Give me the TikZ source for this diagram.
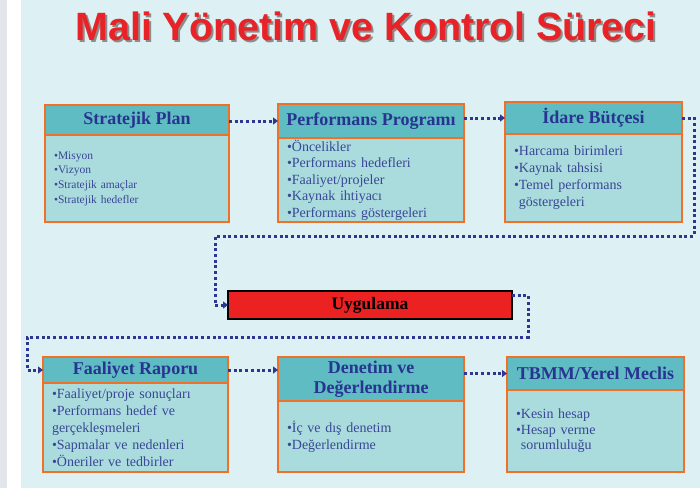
\documentclass[tikz,border=0pt]{standalone}
\usepackage{fontspec}
\setmainfont{Liberation Serif}
\newfontfamily\titlefont{Liberation Sans}
\usetikzlibrary{arrows.meta,positioning}
\definecolor{bgcyan}{RGB}{221,240,243}
\definecolor{stripgray}{RGB}{226,230,235}
\definecolor{boxorange}{RGB}{240,112,40}
\definecolor{headteal}{RGB}{95,188,194}
\definecolor{bodyteal}{RGB}{170,220,222}
\definecolor{headblue}{RGB}{40,52,145}
\definecolor{itemblue}{RGB}{58,70,150}
\definecolor{dotblue}{RGB}{45,55,145}
\definecolor{titlered}{RGB}{232,34,38}
\definecolor{uygred}{RGB}{236,34,34}
\newcommand{\shadowtext}[1]{\rlap{\hspace{2pt}\raisebox{-2pt}{\color{black!45}#1}}#1}
\tikzset{
  head/.style={draw=boxorange,line width=2pt,fill=headteal,text=headblue,
    font=\fontsize{18}{20}\selectfont\bfseries,inner sep=0pt,outer sep=0pt,align=center},
  body/.style={draw=boxorange,line width=2pt,fill=bodyteal,text=itemblue,
    font=\fontsize{14}{17}\selectfont,inner xsep=9pt,inner ysep=0pt,outer sep=0pt,align=left},
  uygbox/.style={draw=black,line width=1.5pt,fill=uygred,text=black,
    font=\fontsize{17.5}{20}\selectfont\bfseries,inner sep=0pt,outer sep=0pt},
  flow/.style={draw=dotblue,line width=3pt,dash pattern=on 3pt off 2.7pt,
    -{Triangle[length=5pt,width=7pt]}}
}

\begin{document}
\begin{tikzpicture}[x=1pt,y=-1pt]
\useasboundingbox (0,0) rectangle (700,488);
\fill[stripgray] (0,0) rectangle (7,488);
\fill[white] (7,0) rectangle (21,488);
\fill[bgcyan] (21,0) rectangle (700,488);
% title
\node[font=\titlefont\bfseries\fontsize{39.5}{44}\selectfont,text=titlered] (title) at (366,27) {\shadowtext{Mali Yönetim ve Kontrol Süreci}};
% top row
\node[head,minimum width=184pt,minimum height=30pt] (b1h) at (137,120) {Stratejik Plan};
\node[body,below=0pt of b1h,minimum height=87pt,text width=166pt,
  font=\fontsize{11.5}{14.7}\selectfont] (b1b) {•Misyon\\•Vizyon\\•Stratejik amaçlar\\•Stratejik hedefler};
\node[head,minimum width=186pt,minimum height=34pt] (b2h) at (371,121) {Performans Programı};
\node[body,below=0pt of b2h,minimum height=84pt,text width=168pt,
  font=\fontsize{14}{16.5}\selectfont] (b2b) {•Öncelikler\\•Performans hedefleri\\•Faaliyet/projeler\\•Kaynak ihtiyacı\\•Performans göstergeleri};
\node[head,minimum width=177pt,minimum height=32pt] (b3h) at (593.5,118) {İdare Bütçesi};
\node[body,below=0pt of b3h,minimum height=88pt,text width=159pt] (b3b) {•Harcama birimleri\\•Kaynak tahsisi\\•Temel performans\\\phantom{•}göstergeleri};
% middle
\node[uygbox,minimum width=284pt,minimum height=28pt] (uyg) at (370,305) {Uygulama};
% bottom row
\node[head,minimum width=185pt,minimum height=26pt] (b4h) at (135.5,370) {Faaliyet Raporu};
\node[body,below=0pt of b4h,minimum height=89pt,text width=167pt] (b4b) {•Faaliyet/proje sonuçları\\•Performans hedef ve\\gerçekleşmeleri\\•Sapmalar ve nedenleri\\•Öneriler ve tedbirler};
\node[head,minimum width=186pt,minimum height=44pt] (b5h) at (371,379) {Denetim ve\\Değerlendirme};
\node[body,below=0pt of b5h,minimum height=71pt,text width=168pt] (b5b) {•İç ve dış denetim\\•Değerlendirme};
\node[head,minimum width=177pt,minimum height=33pt] (b6h) at (595.5,373.5) {TBMM/Yerel Meclis};
\node[body,below=0pt of b6h,minimum height=82pt,text width=159pt,
  font=\fontsize{14}{15.5}\selectfont] (b6b) {•Kesin hesap\\•Hesap verme\\\phantom{•}sorumluluğu};
% connectors
\coordinate (loopR) at (694,236);
\coordinate (loopL) at (215,236);
\coordinate (backR) at (528,337);
\coordinate (backL) at (27,337);
\foreach \a/\b in {b1h/b2h,b2h/b3h,b5h/b6h} \draw[flow] (\b.west -| \a.east)--(\b.west);
\draw[flow] (b4h.east)--(b4h.east -| b5h.west);
\draw[flow] (b3h.east) -| (loopR) -- (loopL) |- (uyg.west);
\draw[flow] ([yshift=10pt]uyg.east) -| (backR) -- (backL) |- (b4h.west);
\end{tikzpicture}
\end{document}
